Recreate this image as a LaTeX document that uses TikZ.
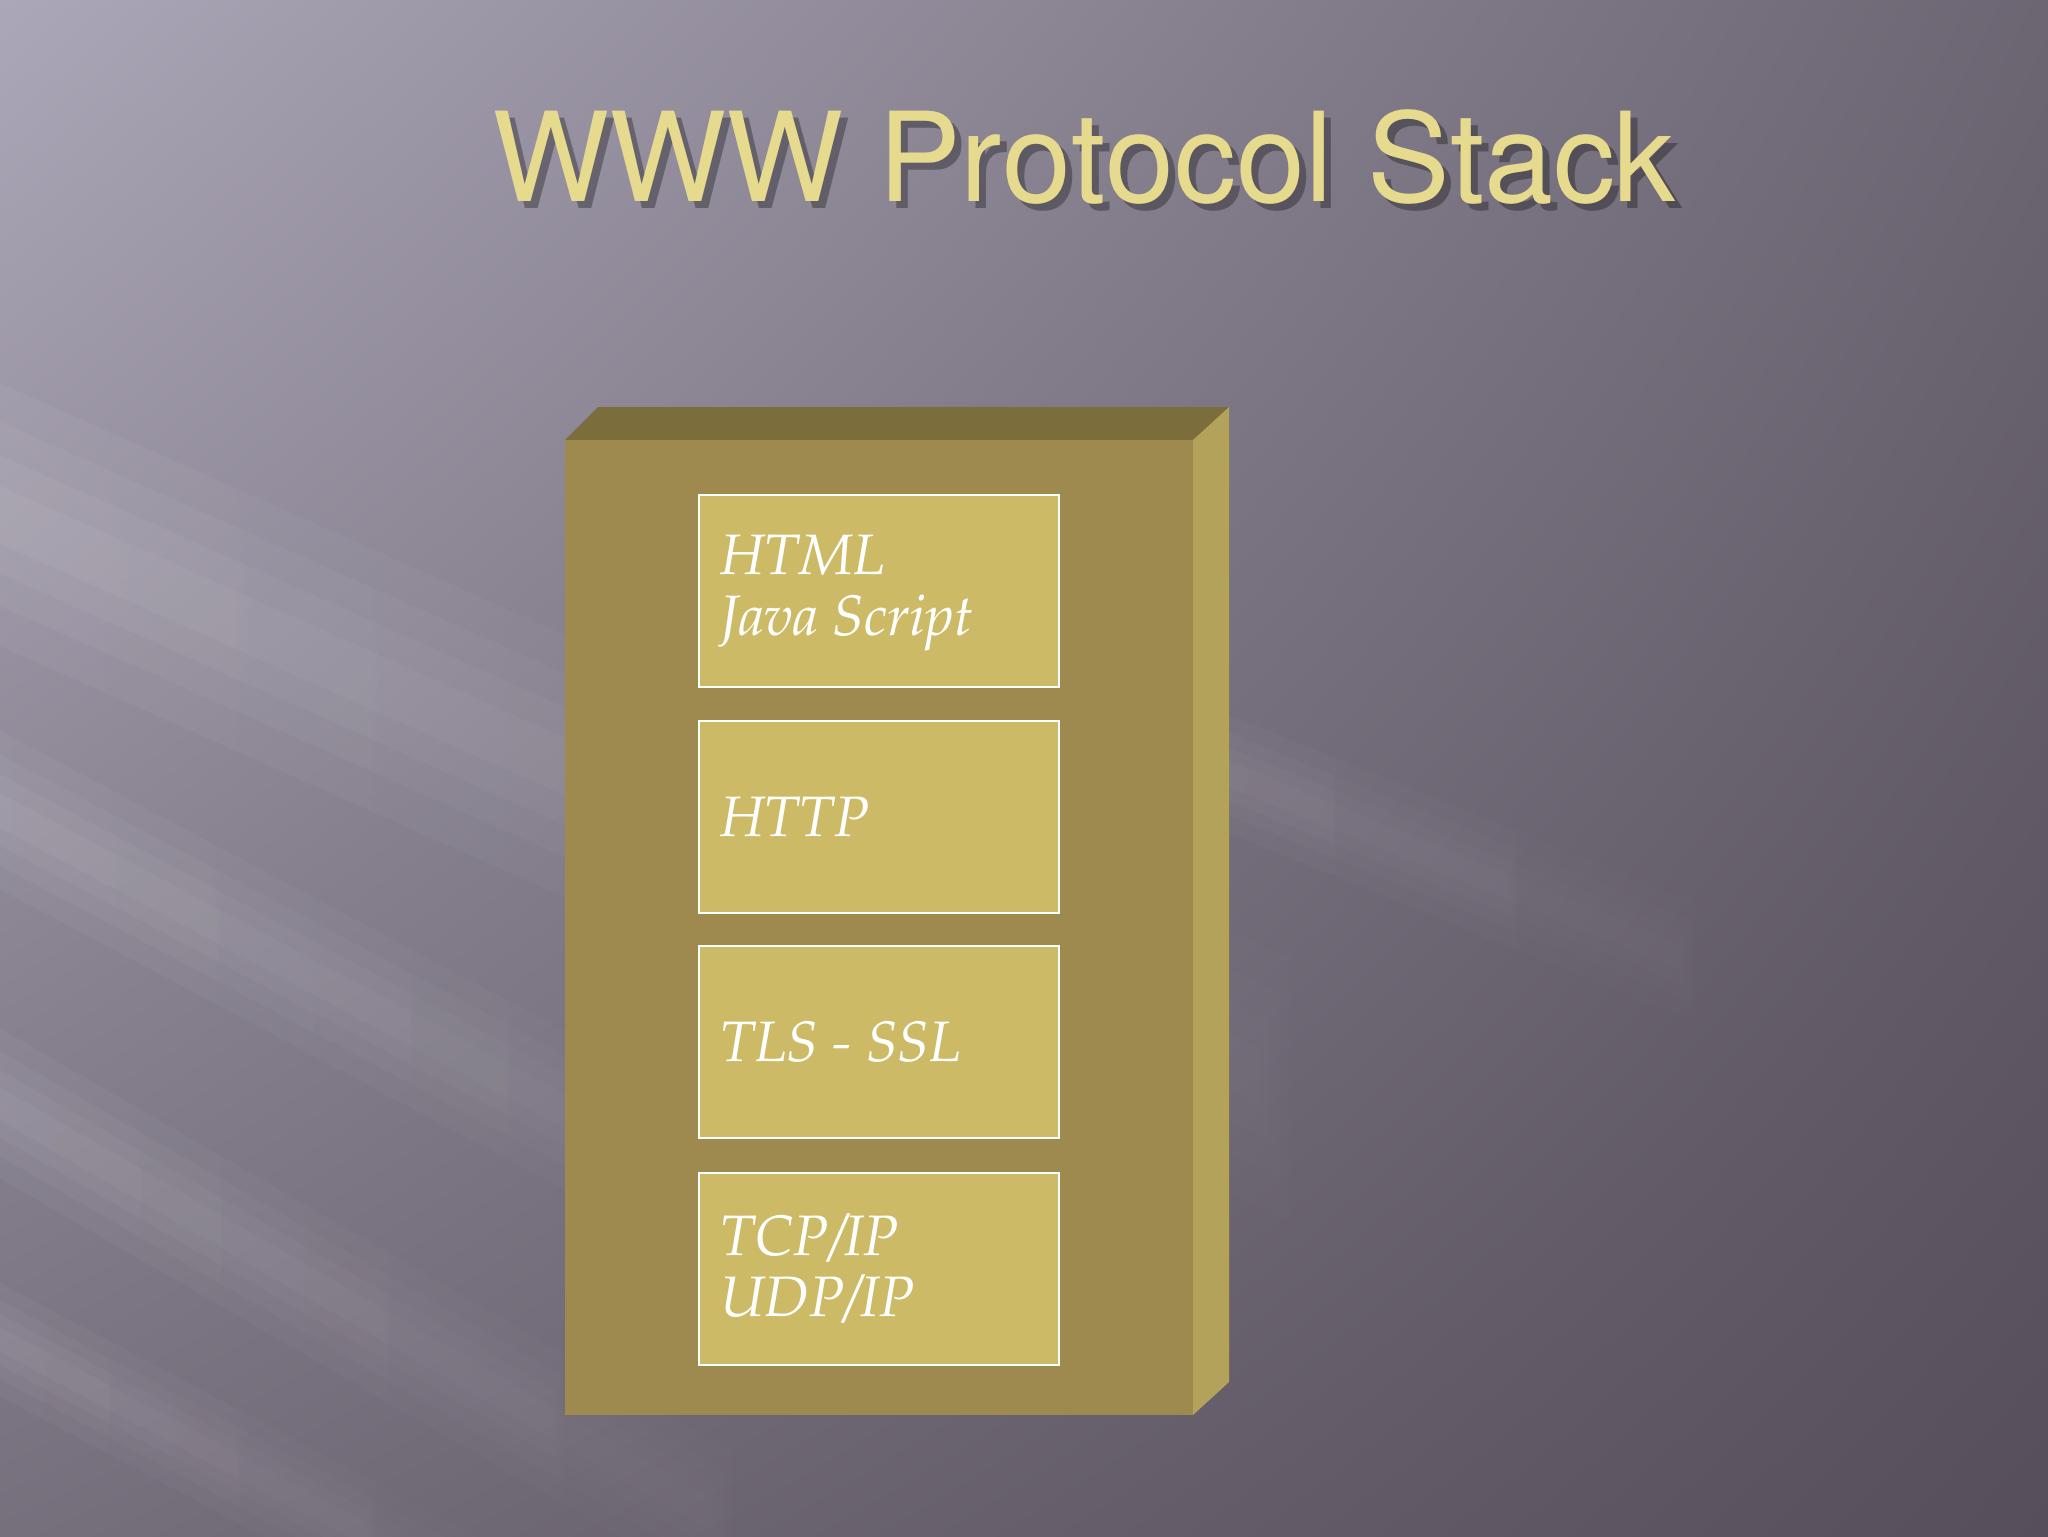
\documentclass[tikz,border=0pt]{standalone}
\usepackage[T1]{fontenc}
\usetikzlibrary{shadings,fadings}
\definecolor{bgUL}{RGB}{172,167,184}
\definecolor{bgUR}{RGB}{108,101,114}
\definecolor{bgLL}{RGB}{118,111,124}
\definecolor{bgLR}{RGB}{86,78,90}
\definecolor{frontc}{RGB}{158,138,78}
\definecolor{topc}{RGB}{123,109,60}
\definecolor{sidec}{RGB}{178,162,90}
\definecolor{layerc}{RGB}{205,186,103}
\definecolor{titlec}{RGB}{230,218,142}
\tikzset{
  layer/.style={draw=white, line width=1.2pt, fill=layerc, minimum width=180pt, minimum height=96pt, inner sep=0pt},
  layertext/.style={anchor=west, text=white, align=left, inner sep=0pt, font=\fontsize{28.5}{30.5}\fontfamily{ppl}\itshape\selectfont},
  titlefont/.style={font=\fontsize{62}{64}\fontfamily{phv}\selectfont}
}
\begin{document}
\begin{tikzpicture}[x=0.5pt,y=-0.5pt]
\useasboundingbox (0,0) rectangle (2048,1536);
\shade[upper left=bgUL, upper right=bgUR, lower left=bgLL, lower right=bgLR] (0,0) rectangle (2048,1536);
% light streaks
\begin{scope}
\clip (0,0) rectangle (2048,1536);
\foreach \ax/\ay/\ang/\len/\w in {-300/380/-24/1900/240, -300/650/-28/1500/140, -300/930/-30/1300/130, -300/1180/-28/1000/100, 600/520/-22/1300/110}{
  \foreach \k in {1,0.7,0.45,0.22}{
    \begin{scope}[shift={(\ax,\ay)}, rotate=\ang]
      \fill[white, opacity=0.055, path fading=east] (0,-\w*\k/2) rectangle (\len,\w*\k/2);
    \end{scope}
  }
}
\end{scope}
% title with soft shadow
\node[titlefont, text=black, opacity=0.3] (titleshadow) at (1091,164) {WWW Protocol Stack};
\node[titlefont, text=titlec] (title) at (1084,157) {WWW Protocol Stack};
% 3D block
\fill[topc] (565,440) -- (598,407) -- (1229,407) -- (1193,440) -- cycle;
\fill[sidec] (1193,440) -- (1229,407) -- (1229,1382) -- (1193,1415) -- cycle;
\fill[frontc] (565,440) rectangle (1193,1415);
% layers
\node[layer] (html) at (879,591) {};
\node[layer] (http) at (879,817) {};
\node[layer] (tls) at (879,1042) {};
\node[layer] (tcp) at (879,1269) {};
\node[layertext] (htmlt) at (720,593) {HTML\\Java Script};
\node[layertext] (httpt) at (720,817) {HTTP};
\node[layertext] (tlst) at (720,1042) {TLS - SSL};
\node[layertext] (tcpt) at (720,1269) {TCP/IP\\UDP/IP};
\end{tikzpicture}
\end{document}
